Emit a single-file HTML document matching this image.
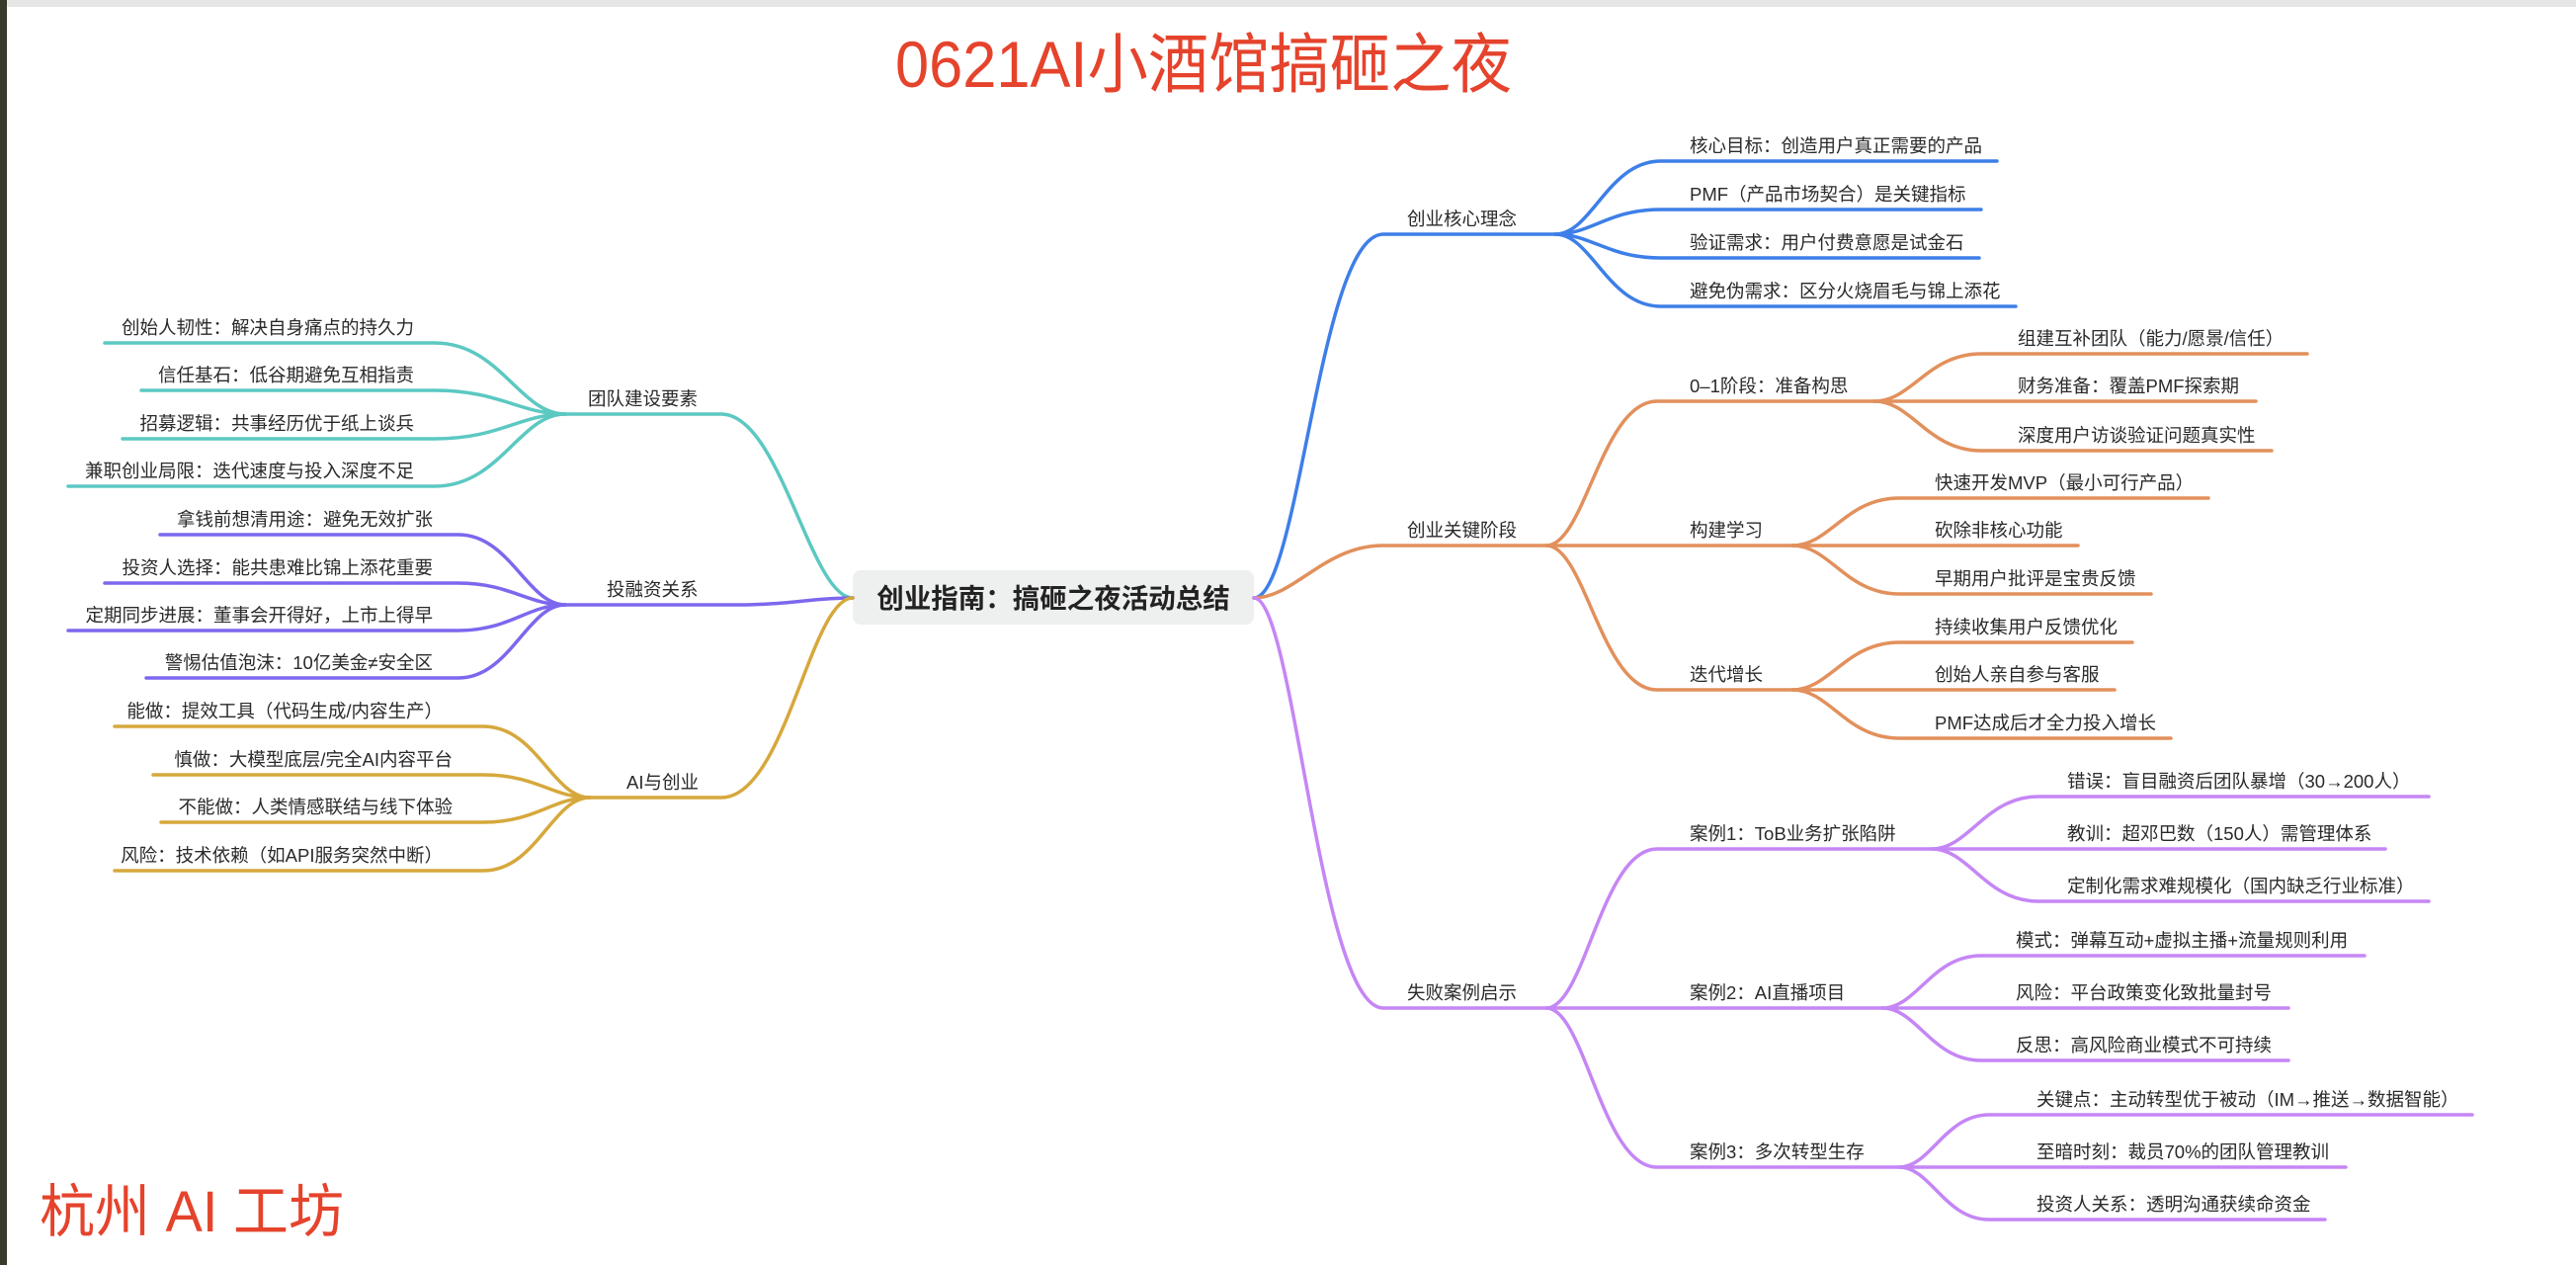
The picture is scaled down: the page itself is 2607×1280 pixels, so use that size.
<!DOCTYPE html>
<html><head><meta charset="utf-8"><style>
html,body{margin:0;padding:0;background:#fff;}
svg{display:block;}
text{font-family:"Liberation Sans","Noto Sans CJK SC",sans-serif;fill:#2a2a2a;}
.t{font-size:18.5px;}
.p{fill:none;stroke-width:3.5;stroke-linecap:round;}
</style></head><body>
<svg width="2607" height="1280" viewBox="0 0 2607 1280" xmlns="http://www.w3.org/2000/svg">
<rect x="0" y="0" width="2607" height="1280" fill="#fff"/>
<rect x="0" y="0" width="2607" height="7" fill="#e6e6e6"/>
<rect x="0" y="0" width="7" height="1280" fill="#3a3a2a"/>

<text x="906" y="88" font-size="66" textLength="624" lengthAdjust="spacingAndGlyphs" style="fill:#e5432c">0621AI小酒馆搞砸之夜</text>
<text x="40" y="1246" font-size="58" textLength="308" lengthAdjust="spacingAndGlyphs" style="fill:#e5432c">杭州 AI 工坊</text>

<!-- center -->
<rect x="863" y="577" width="406" height="55" rx="8" fill="#eeefef"/>
<text x="1066" y="615" font-size="27.5" font-weight="bold" text-anchor="middle" style="fill:#222">创业指南：搞砸之夜活动总结</text>

<!-- blue -->
<g class="p" stroke="#3d7fe8">
<path d="M1269 605 C1315 605 1335 237 1400 237 L1574 237"/>
<path d="M1574 237 C1611 237 1627 163 1681 163 L2021 163"/>
<path d="M1574 237 C1611 237 1627 212 1681 212 L2005 212"/>
<path d="M1574 237 C1611 237 1627 261 1681 261 L2003 261"/>
<path d="M1574 237 C1611 237 1627 310 1681 310 L2040 310"/>
</g>
<text class="t" x="1424" y="228">创业核心理念</text>
<text class="t" x="1710" y="154">核心目标：创造用户真正需要的产品</text>
<text class="t" x="1710" y="203">PMF（产品市场契合）是关键指标</text>
<text class="t" x="1710" y="252">验证需求：用户付费意愿是试金石</text>
<text class="t" x="1710" y="301">避免伪需求：区分火烧眉毛与锦上添花</text>

<!-- orange -->
<g class="p" stroke="#e2905c">
<path d="M1269 605 C1310 605 1340 552 1400 552 L1565 552"/>
<path d="M1565 552 C1604 552 1621 406 1677 406 L1897 406"/>
<path d="M1565 552 L1814 552"/>
<path d="M1565 552 C1604 552 1621 698 1677 698 L1814 698"/>
<path d="M1897 406 C1935 406 1951 358 2005 358 L2335 358"/>
<path d="M1897 406 L2283 406"/>
<path d="M1897 406 C1935 406 1951 456 2005 456 L2299 456"/>
<path d="M1814 552 C1852 552 1868 504 1922 504 L2235 504"/>
<path d="M1814 552 L2103 552"/>
<path d="M1814 552 C1852 552 1868 601 1922 601 L2177 601"/>
<path d="M1814 698 C1852 698 1868 650 1922 650 L2158 650"/>
<path d="M1814 698 L2140 698"/>
<path d="M1814 698 C1852 698 1868 747 1922 747 L2197 747"/>
</g>
<text class="t" x="1424" y="543">创业关键阶段</text>
<text class="t" x="1710" y="397">0–1阶段：准备构思</text>
<text class="t" x="1710" y="543">构建学习</text>
<text class="t" x="1710" y="689">迭代增长</text>
<text class="t" x="2042" y="349">组建互补团队（能力/愿景/信任）</text>
<text class="t" x="2042" y="397">财务准备：覆盖PMF探索期</text>
<text class="t" x="2042" y="447">深度用户访谈验证问题真实性</text>
<text class="t" x="1958" y="495">快速开发MVP（最小可行产品）</text>
<text class="t" x="1958" y="543">砍除非核心功能</text>
<text class="t" x="1958" y="592">早期用户批评是宝贵反馈</text>
<text class="t" x="1958" y="641">持续收集用户反馈优化</text>
<text class="t" x="1958" y="689">创始人亲自参与客服</text>
<text class="t" x="1958" y="738">PMF达成后才全力投入增长</text>

<!-- purple -->
<g class="p" stroke="#c586f5">
<path d="M1269 605 C1310 605 1335 1020 1400 1020 L1565 1020"/>
<path d="M1565 1020 C1604 1020 1621 859 1677 859 L1955 859"/>
<path d="M1565 1020 L1905 1020"/>
<path d="M1565 1020 C1604 1020 1621 1181 1677 1181 L1922 1181"/>
<path d="M1955 859 C1993 859 2009 806 2063 806 L2458 806"/>
<path d="M1955 859 L2414 859"/>
<path d="M1955 859 C1993 859 2009 912 2063 912 L2458 912"/>
<path d="M1905 1020 C1940 1020 1955 967 2005 967 L2393 967"/>
<path d="M1905 1020 L2316 1020"/>
<path d="M1905 1020 C1940 1020 1955 1073 2005 1073 L2316 1073"/>
<path d="M1922 1181 C1954 1181 1968 1128 2013 1128 L2502 1128"/>
<path d="M1922 1181 L2374 1181"/>
<path d="M1922 1181 C1954 1181 1968 1234 2013 1234 L2353 1234"/>
</g>
<text class="t" x="1424" y="1011">失败案例启示</text>
<text class="t" x="1710" y="850">案例1：ToB业务扩张陷阱</text>
<text class="t" x="1710" y="1011">案例2：AI直播项目</text>
<text class="t" x="1710" y="1172">案例3：多次转型生存</text>
<text class="t" x="2092" y="797">错误：盲目融资后团队暴增（30→200人）</text>
<text class="t" x="2092" y="850">教训：超邓巴数（150人）需管理体系</text>
<text class="t" x="2092" y="903">定制化需求难规模化（国内缺乏行业标准）</text>
<text class="t" x="2040" y="958">模式：弹幕互动+虚拟主播+流量规则利用</text>
<text class="t" x="2040" y="1011">风险：平台政策变化致批量封号</text>
<text class="t" x="2040" y="1064">反思：高风险商业模式不可持续</text>
<text class="t" x="2061" y="1119">关键点：主动转型优于被动（IM→推送→数据智能）</text>
<text class="t" x="2061" y="1172">至暗时刻：裁员70%的团队管理教训</text>
<text class="t" x="2061" y="1225">投资人关系：透明沟通获续命资金</text>

<!-- teal -->
<g class="p" stroke="#5cc8c2">
<path d="M863 605 C820 605 790 419 730 419 L572 419"/>
<path d="M572 419 C526 419 506 347 440 347 L106 347"/>
<path d="M572 419 C526 419 506 395 440 395 L143 395"/>
<path d="M572 419 C526 419 506 444 440 444 L124 444"/>
<path d="M572 419 C526 419 506 492 440 492 L69 492"/>
</g>
<text class="t" x="595" y="410">团队建设要素</text>
<g class="t" text-anchor="end">
<text x="419" y="338">创始人韧性：解决自身痛点的持久力</text>
<text x="419" y="386">信任基石：低谷期避免互相指责</text>
<text x="419" y="435">招募逻辑：共事经历优于纸上谈兵</text>
<text x="419" y="483">兼职创业局限：迭代速度与投入深度不足</text>
</g>

<!-- violet -->
<g class="p" stroke="#7b68ee">
<path d="M863 605 C820 605 800 612 746 612 L572 612"/>
<path d="M572 612 C534 612 516 541 464 541 L162 541"/>
<path d="M572 612 C534 612 516 590 464 590 L106 590"/>
<path d="M572 612 C534 612 516 638 464 638 L69 638"/>
<path d="M572 612 C534 612 516 686 464 686 L148 686"/>
</g>
<text class="t" x="614" y="603">投融资关系</text>
<g class="t" text-anchor="end">
<text x="438" y="532">拿钱前想清用途：避免无效扩张</text>
<text x="438" y="581">投资人选择：能共患难比锦上添花重要</text>
<text x="438" y="629">定期同步进展：董事会开得好，上市上得早</text>
<text x="438" y="677">警惕估值泡沫：10亿美金≠安全区</text>
</g>

<!-- gold -->
<g class="p" stroke="#d6a83c">
<path d="M863 605 C820 605 795 807 730 807 L597 807"/>
<path d="M597 807 C559 807 543 735 489 735 L116 735"/>
<path d="M597 807 C559 807 543 784 489 784 L155 784"/>
<path d="M597 807 C559 807 543 832 489 832 L163 832"/>
<path d="M597 807 C559 807 543 881 489 881 L116 881"/>
</g>
<text class="t" x="634" y="798">AI与创业</text>
<g class="t" text-anchor="end">
<text x="448" y="726">能做：提效工具（代码生成/内容生产）</text>
<text x="458" y="775">慎做：大模型底层/完全AI内容平台</text>
<text x="458" y="823">不能做：人类情感联结与线下体验</text>
<text x="448" y="872">风险：技术依赖（如API服务突然中断）</text>
</g>
</svg>
</body></html>
